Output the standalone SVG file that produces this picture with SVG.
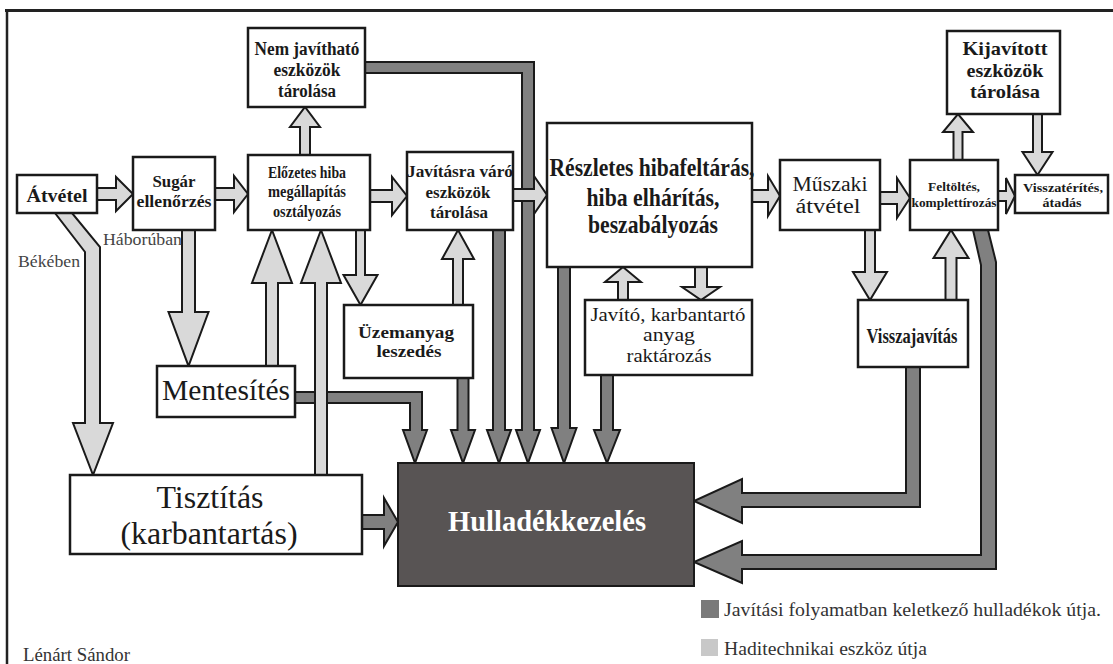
<svg xmlns="http://www.w3.org/2000/svg" width="1113" height="664" viewBox="0 0 1113 664">
<style>
.box{fill:#fff;stroke:#1a1a1a;stroke-width:2.5}
.lt{fill:#d9d9d9;stroke:#1a1a1a;stroke-width:2}
.dk{fill:#808080;stroke:#1a1a1a;stroke-width:2}
.t{font-family:"Liberation Serif","Times New Roman",serif;fill:#1a1a1a;text-anchor:middle}
.b{font-weight:bold}
.lab{font-family:"Liberation Serif","Times New Roman",serif;fill:#444}
</style>
<rect x="0" y="0" width="1113" height="664" fill="#fff"/>
<g id="frame" stroke="#222" fill="none">
<line x1="5" y1="10.5" x2="1113" y2="10.5" stroke-width="3"/>
<line x1="7" y1="9" x2="7" y2="664" stroke-width="2.5"/>
</g>
<g id="connectors">
<polygon class="dk" points="295,392 422,392 422,430 427,430 415,463 403,430 410,430 410,403 295,403"/>
<polygon class="dk" points="457.5,378 457.5,430 451,430 463,463 475,430 468.5,430 468.5,378"/>
<polygon class="dk" points="493,230 493,430 487,430 499,463 511,430 505,430 505,230"/>
<polygon class="dk" points="365,62 534,62 534,430 540,430 528,463 516,430 522,430 522,73 365,73"/>
<polygon class="dk" points="558,267 558,428 551.5,428 564,463 576.5,428 570,428 570,267"/>
<polygon class="dk" points="601,375 601,430 594,430 607,463 620,430 613,430 613,375"/>
<polygon class="dk" points="362,515 384,515 384,498 398,522 384,546 384,529 362,529"/>
<polygon class="dk" points="906,367 920,367 920,507 742,507 742,523 694,501 742,479 742,493 906,493"/>
<polygon class="dk" points="973,230 988,230 996,262 996,569 742,569 742,583 694,562 742,541 742,555 981,555 981,265"/>
<polygon class="lt" points="97,188 116,188 116,177 133,194 116,211 116,200 97,200"/>
<polygon class="lt" points="215,188 234,188 234,176 248,194 234,212 234,200 215,200"/>
<polygon class="lt" points="370,190 392,190 392,177 407,196 392,215 392,202 370,202"/>
<polygon class="lt" points="513,189 534,189 534,176 547,195 534,214 534,201 513,201"/>
<polygon class="lt" points="752,190 768,190 768,176 780,196 768,216 768,202 752,202"/>
<polygon class="lt" points="880,192 897,192 897,178 910,198 897,218 897,204 880,204"/>
<polygon class="lt" points="998,191 1006,191 1006,178 1015,196 1006,214 1006,201 998,201"/>
<polygon class="lt" points="300,155 300,127 290,127 305,107 320,127 310,127 310,155"/>
<polygon class="lt" points="266,366 266,283 252,283 272,230 292,283 278,283 278,366"/>
<polygon class="lt" points="315,475 315,283 301,283 321,230 341,283 327,283 327,475"/>
<polygon class="lt" points="453,305 453,259 442,259 458,230 474,259 463,259 463,305"/>
<polygon class="lt" points="618,300 618,282 605,282 623,267 641,282 628,282 628,300"/>
<polygon class="lt" points="953.5,160 953.5,132 943,132 958,114 973,132 962.5,132 962.5,160"/>
<polygon class="lt" points="945.5,300 945.5,258 933.5,258 951,230 968.5,258 956.5,258 956.5,300"/>
<polygon class="lt" points="182,230 182,312 168.5,312 188.5,366 208.5,312 195,312 195,230"/>
<polygon class="lt" points="356,230 356,275 343.5,275 360.5,305 377.5,275 365,275 365,230"/>
<polygon class="lt" points="695,267 695,287 682,287 701,300 720,287 707,287 707,267"/>
<polygon class="lt" points="865,230 865,272 853,272 870,300 887,272 875,272 875,230"/>
<polygon class="lt" points="1033,114 1033,152 1022.5,152 1037.5,175 1052.5,152 1042,152 1042,114"/>
<polygon class="lt" points="55,213 72,213 100,247 100,423 113,423 93,475 73,423 85,423 85,252"/>
<text class="lab" x="18" y="267" font-size="17" textLength="62" lengthAdjust="spacingAndGlyphs">Békében</text>
<text class="lab" x="103" y="245" font-size="17" textLength="79" lengthAdjust="spacingAndGlyphs">Háborúban</text>
</g>
<g id="atvetel">
<rect class="box" x="17" y="175" width="80" height="38"/>
<text class="t b" x="57" y="202" font-size="19" textLength="61" lengthAdjust="spacingAndGlyphs">Átvétel</text>
</g>
<g id="sugar">
<rect class="box" x="133" y="157" width="82" height="73"/>
<text class="t b" x="174" y="187" font-size="17.5" textLength="43" lengthAdjust="spacingAndGlyphs">Sugár</text>
<text class="t b" x="174" y="207" font-size="17.5" textLength="75" lengthAdjust="spacingAndGlyphs">ellenőrzés</text>
</g>
<g id="elozetes">
<rect class="box" x="248" y="155" width="122" height="75"/>
<text class="t b" x="307" y="178" font-size="16" textLength="78" lengthAdjust="spacingAndGlyphs">Előzetes hiba</text>
<text class="t b" x="307" y="197" font-size="16" textLength="78" lengthAdjust="spacingAndGlyphs">megállapítás</text>
<text class="t b" x="307" y="217" font-size="16" textLength="68" lengthAdjust="spacingAndGlyphs">osztályozás</text>
</g>
<g id="nemjavithato">
<rect class="box" x="248" y="28" width="117" height="79"/>
<text class="t b" x="307" y="55" font-size="18.5" textLength="105" lengthAdjust="spacingAndGlyphs">Nem javítható</text>
<text class="t b" x="307" y="76" font-size="18.5" textLength="67" lengthAdjust="spacingAndGlyphs">eszközök</text>
<text class="t b" x="307" y="97" font-size="18.5" textLength="58" lengthAdjust="spacingAndGlyphs">tárolása</text>
</g>
<g id="javitasra">
<rect class="box" x="407" y="152" width="106" height="78"/>
<text class="t b" x="460" y="177" font-size="17.5" textLength="106" lengthAdjust="spacingAndGlyphs">Javításra váró</text>
<text class="t b" x="458" y="198" font-size="17.5" textLength="65" lengthAdjust="spacingAndGlyphs">eszközök</text>
<text class="t b" x="459" y="218" font-size="17.5" textLength="58" lengthAdjust="spacingAndGlyphs">tárolása</text>
</g>
<g id="reszletes">
<rect class="box" x="547" y="123" width="205" height="144"/>
<text class="t b" x="652" y="176" font-size="25" textLength="205" lengthAdjust="spacingAndGlyphs">Részletes hibafeltárás,</text>
<text class="t b" x="653" y="206" font-size="25" textLength="133" lengthAdjust="spacingAndGlyphs">hiba elhárítás,</text>
<text class="t b" x="653" y="233" font-size="25" textLength="130" lengthAdjust="spacingAndGlyphs">beszabályozás</text>
</g>
<g id="muszaki">
<rect class="box" x="780" y="160" width="100" height="70"/>
<text class="t" x="830" y="191" font-size="20" textLength="75" lengthAdjust="spacingAndGlyphs">Műszaki</text>
<text class="t" x="828" y="213" font-size="20" textLength="65" lengthAdjust="spacingAndGlyphs">átvétel</text>
</g>
<g id="feltoltes">
<rect class="box" x="910" y="160" width="88" height="70"/>
<text class="t b" x="954" y="191" font-size="13.5" textLength="52" lengthAdjust="spacingAndGlyphs">Feltöltés,</text>
<text class="t b" x="954" y="207" font-size="13.5" textLength="85" lengthAdjust="spacingAndGlyphs">komplettírozás</text>
</g>
<g id="kijavitott">
<rect class="box" x="947" y="31" width="113" height="83"/>
<text class="t b" x="1005" y="55" font-size="19" textLength="85" lengthAdjust="spacingAndGlyphs">Kijavított</text>
<text class="t b" x="1005" y="77" font-size="19" textLength="77" lengthAdjust="spacingAndGlyphs">eszközök</text>
<text class="t b" x="1005" y="98" font-size="19" textLength="70" lengthAdjust="spacingAndGlyphs">tárolása</text>
</g>
<g id="visszateretes">
<rect class="box" x="1015" y="175" width="93" height="38"/>
<text class="t b" x="1063" y="192" font-size="13" textLength="80" lengthAdjust="spacingAndGlyphs">Visszatérítés,</text>
<text class="t b" x="1062" y="207" font-size="13" textLength="39" lengthAdjust="spacingAndGlyphs">átadás</text>
</g>
<g id="visszajavitas">
<rect class="box" x="858" y="300" width="110" height="67"/>
<text class="t b" x="912" y="343" font-size="21" textLength="91" lengthAdjust="spacingAndGlyphs">Visszajavítás</text>
</g>
<g id="uzemanyag">
<rect class="box" x="344" y="305" width="129" height="73"/>
<text class="t b" x="406" y="338" font-size="17" textLength="96" lengthAdjust="spacingAndGlyphs">Üzemanyag</text>
<text class="t b" x="409" y="357" font-size="17" textLength="65" lengthAdjust="spacingAndGlyphs">leszedés</text>
</g>
<g id="javito">
<rect class="box" x="585" y="300" width="167" height="75"/>
<text class="t" x="668" y="321" font-size="18" textLength="155" lengthAdjust="spacingAndGlyphs">Javító, karbantartó</text>
<text class="t" x="669" y="341" font-size="18" textLength="52" lengthAdjust="spacingAndGlyphs">anyag</text>
<text class="t" x="669" y="362" font-size="18" textLength="85" lengthAdjust="spacingAndGlyphs">raktározás</text>
</g>
<g id="mentesites">
<rect class="box" x="157" y="366" width="138" height="51"/>
<text class="t" x="226" y="400" font-size="29" textLength="128" lengthAdjust="spacingAndGlyphs">Mentesítés</text>
</g>
<g id="tisztitas">
<rect class="box" x="70" y="475" width="292" height="79"/>
<text class="t" x="210" y="508" font-size="31" textLength="107" lengthAdjust="spacingAndGlyphs">Tisztítás</text>
<text class="t" x="209" y="544" font-size="31" textLength="177" lengthAdjust="spacingAndGlyphs">(karbantartás)</text>
</g>
<g id="hulladek">
<rect x="398" y="463" width="296" height="123" fill="#585454" stroke="#1a1a1a" stroke-width="2"/>
<text class="t b" x="547" y="531" font-size="29" style="fill:#fff" textLength="198" lengthAdjust="spacingAndGlyphs">Hulladékkezelés</text>
</g>
<g id="legend">
<rect x="701" y="600" width="18" height="18" fill="#7a7a7a"/>
<text class="lab" x="724" y="616" font-size="19" style="fill:#333" textLength="377" lengthAdjust="spacingAndGlyphs">Javítási folyamatban keletkező  hulladékok útja.</text>
<rect x="701" y="639" width="17" height="17" fill="#c8c8c8"/>
<text class="lab" x="724" y="655" font-size="19" style="fill:#333" textLength="203" lengthAdjust="spacingAndGlyphs">Haditechnikai eszköz útja</text>
</g>
<g id="author">
<text class="lab" x="23" y="661" font-size="18" style="fill:#333" textLength="107" lengthAdjust="spacingAndGlyphs">Lénárt Sándor</text>
</g>
</svg>
